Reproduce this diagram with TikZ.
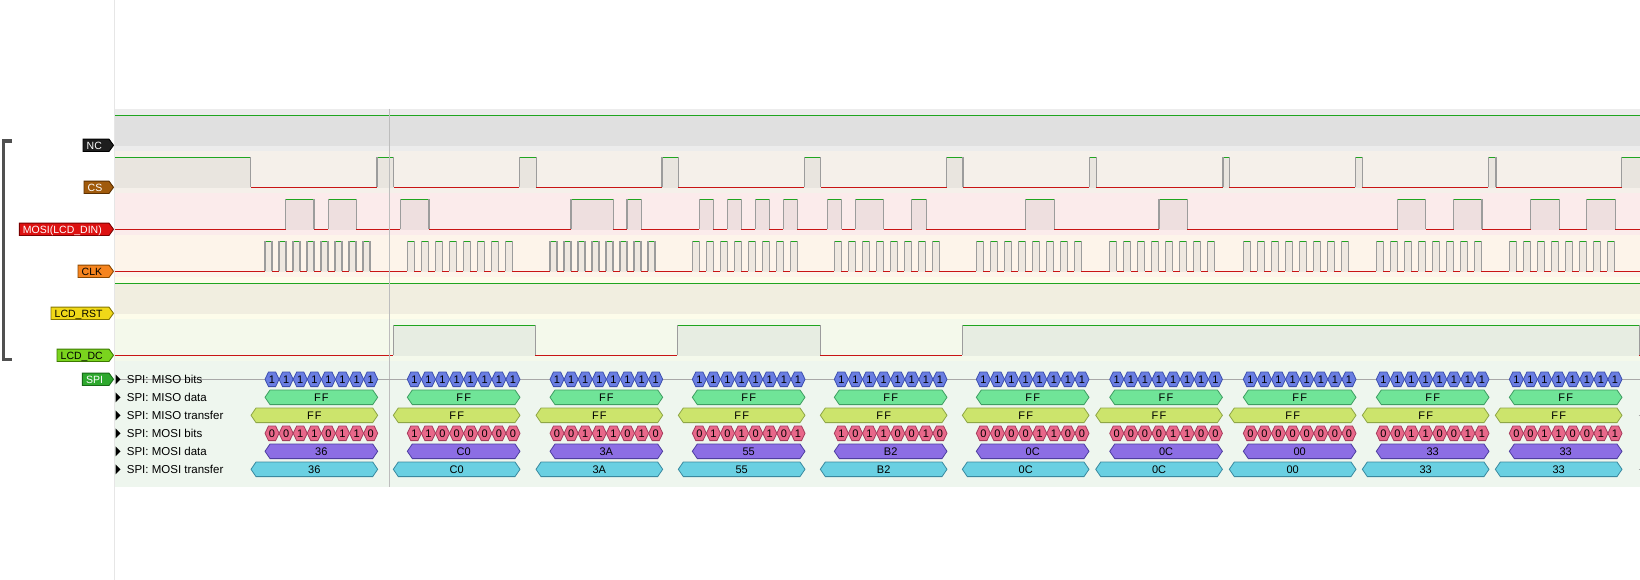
\documentclass[tikz,border=0pt]{standalone}
\usepackage{fontspec}
\setmainfont{Liberation Sans}
\definecolor{hic}{HTML}{1FA51F}
\definecolor{loc}{HTML}{C81414}
\definecolor{edgec}{HTML}{9C9C9C}
\definecolor{cursorc}{HTML}{BDBDBD}
\definecolor{divc}{HTML}{E6E6E6}
\definecolor{linec}{HTML}{A8A8A8}
\definecolor{ncbg}{HTML}{ECECEC}\definecolor{ncfill}{HTML}{E0E0E0}
\definecolor{csbg}{HTML}{F5F0EA}\definecolor{csfill}{HTML}{E9E5DF}
\definecolor{mosibg}{HTML}{FBEBEB}\definecolor{mosifill}{HTML}{EEDFDF}
\definecolor{clkbg}{HTML}{FDF4EA}\definecolor{clkfill}{HTML}{EFE8E0}
\definecolor{rstbg}{HTML}{FDFCEA}\definecolor{rstfill}{HTML}{F1EEE0}
\definecolor{dcbg}{HTML}{F4F9EB}\definecolor{dcfill}{HTML}{E7EDE2}
\definecolor{spibg}{HTML}{EEF6EE}
\definecolor{mbf}{HTML}{6A7EE2}\definecolor{mbd}{HTML}{3C4EAE}
\definecolor{mdf}{HTML}{70E498}\definecolor{mdd}{HTML}{3F9E62}
\definecolor{mtf}{HTML}{CCE46C}\definecolor{mtd}{HTML}{8EA646}
\definecolor{obf}{HTML}{E8688A}\definecolor{obd}{HTML}{A63C5C}
\definecolor{odataf}{HTML}{8C6EE4}\definecolor{odatad}{HTML}{4E3EA0}
\definecolor{otf}{HTML}{6AD0E2}\definecolor{otd}{HTML}{3A8AA0}
\definecolor{tagnc}{HTML}{1E1E1E}\definecolor{tagncd}{HTML}{000000}
\definecolor{tagcs}{HTML}{A05A0C}\definecolor{tagcsd}{HTML}{5C3000}
\definecolor{tagmosi}{HTML}{DD1111}\definecolor{tagmosid}{HTML}{7A0000}
\definecolor{tagclk}{HTML}{F5841F}\definecolor{tagclkd}{HTML}{8A4800}
\definecolor{tagrst}{HTML}{F0D818}\definecolor{tagrstd}{HTML}{857600}
\definecolor{tagdc}{HTML}{7AD41E}\definecolor{tagdcd}{HTML}{3C7A00}
\definecolor{tagspi}{HTML}{2EA82E}\definecolor{tagspid}{HTML}{176A17}
\definecolor{bracketc}{HTML}{505050}

\tikzset{
  hiline/.style={draw=hic, line width=1pt},
  loline/.style={draw=loc, line width=1pt},
  edgeline/.style={draw=edgec, line width=1.4pt},
  cursorline/.style={draw=cursorc, line width=1.2pt},
  tagtext/.style={font=\fontsize{10.5}{12}\selectfont, inner sep=0pt, anchor=base west},
  rowtext/.style={font=\fontsize{11.5}{13}\selectfont, inner sep=0pt, anchor=base west},
  hextext/.style={font=\fontsize{11}{12}\selectfont, inner sep=0pt, anchor=base},
}

% high interval: x1, x2, high y, fill colour
\newcommand\wvFill[4]{%
  \fill[#4] (#1,#3) rectangle (#2,#3+30.6);
  \draw[hiline] (#1,#3) -- (#2,#3);}
\newcommand\wvEdge[2]{\draw[edgeline] (#1,#2) -- (#1,#2+30);}
\newcommand\wvPulse[4]{\wvFill{#1}{#2}{#3}{#4}\wvEdge{#1}{#3}\wvEdge{#2}{#3}}
% hexagon: x1, x2, yc, fill, draw, point
\newcommand\hexShape[6]{%
  \filldraw[fill=#4,draw=#5,line width=0.8pt] (#1,#3) -- (#1+#6,#3-7.3) -- (#2-#6,#3-7.3) -- (#2,#3) -- (#2-#6,#3+7.3) -- (#1+#6,#3+7.3) -- cycle;}
% tag: name, x0, yc, fill, draw, text colour, text
\newcommand\tagShape[7]{%
  \filldraw[fill=#4,draw=#5,line width=0.9pt] (#2,#3-6.2) -- (109,#3-6.2) -- (113.5,#3) -- (109,#3+6.2) -- (#2,#3+6.2) -- cycle;
  \node[tagtext,text=#6] (#1) at (#2+3.5,#3+3.9) {#7};}

\begin{document}
\begin{tikzpicture}[x=1pt,y=-1pt]
\useasboundingbox (0,0) rectangle (1640,580);
\fill[white] (0,0) rectangle (1640,580);

% row backgrounds
\fill[ncbg]   (115,109) rectangle (1640,151);
\fill[csbg]   (115,151) rectangle (1640,193);
\fill[mosibg] (115,193) rectangle (1640,235);
\fill[clkbg]  (115,235) rectangle (1640,277);
\fill[rstbg]  (115,277) rectangle (1640,319);
\fill[dcbg]   (115,319) rectangle (1640,361);
\fill[spibg]  (115,361) rectangle (1640,487);
\draw[divc, line width=1pt] (114.5,0) -- (114.5,580);

% low lines
\foreach \L in {187.3,229.3,271.3,355.3} {\draw[loline] (115,\L) -- (1640,\L);}

% NC and LCD_RST: constant high
\wvFill{115}{1640}{115.3}{ncfill}
\wvFill{115}{1640}{283.3}{rstfill}

% CS
\wvFill{115}{250.7}{157.3}{csfill}\wvEdge{250.7}{157.3}
\foreach \a/\b in {377/393.7,519.3/536.3,662/678.3,804.3/820.7,946.7/963,1089.3/1096.3,1223/1229.3,1355.3/1362.3,1488.3/1496}
  {\wvPulse{\a}{\b}{157.3}{csfill}}
\wvFill{1621.7}{1640}{157.3}{csfill}\wvEdge{1621.7}{157.3}

% MOSI(LCD_DIN)
\foreach \a/\b in {285.7/314,328.3/356.3,400.3/429,571/613.3,627/641.3,699.3/713.3,727.3/741.3,755.3/769.3,783.3/797.3,827.3/841.7,855.3/883.7,911.7/926.3,1025.7/1054.3,1159/1187.3,1397.7/1425.7,1453.7/1482,1530.7/1559.3,1586.7/1615.3}
  {\wvPulse{\a}{\b}{199.3}{mosifill}}

% CLK
\foreach \s in {265,407.3,550,692.3,834.3,976.3,1109.7,1243.3,1376.3,1509.3} {
  \foreach \k in {0,...,7} {
    \pgfmathsetmacro\xa{\s+14*\k}
    \pgfmathsetmacro\xb{\xa+7}
    \wvPulse{\xa}{\xb}{241.3}{clkfill}
  }
}

% LCD_DC
\foreach \a/\b in {393.3/535.3,677.3/820.3,962.3/1639.3}
  {\wvPulse{\a}{\b}{325.3}{dcfill}}

% cursor
\draw[cursorline] (389.3,109) -- (389.3,487);

% bracket
\draw[bracketc, line width=3.2pt] (12,141) -- (3.3,141) -- (3.3,359.6) -- (12,359.6);

% tags
\tagShape{tNC}{83}{145.3}{tagnc}{tagncd}{white}{NC}
\tagShape{tCS}{84}{187.3}{tagcs}{tagcsd}{white}{CS}
\tagShape{tMOSI}{19.3}{229.3}{tagmosi}{tagmosid}{white}{MOSI(LCD\_DIN)}
\tagShape{tCLK}{78}{271.3}{tagclk}{tagclkd}{black}{CLK}
\tagShape{tRST}{51}{313.3}{tagrst}{tagrstd}{black}{LCD\_RST}
\tagShape{tDC}{57}{355.3}{tagdc}{tagdcd}{black}{LCD\_DC}
\tagShape{tSPI}{82.3}{379.3}{tagspi}{tagspid}{white}{SPI}

% SPI rows: line, triangles, labels
\draw[linec, line width=0.9pt] (120,379.3) -- (1640,379.3);
\draw[linec, line width=0.9pt] (1638.5,415.3) -- (1640,415.3);
\draw[linec, line width=0.9pt] (1638.5,469.3) -- (1640,469.3);
\foreach \y in {379.3,397.3,415.3,433.3,451.3,469.3}
  {\fill[black] (115.5,\y-5) -- (120.5,\y) -- (115.5,\y+5) -- cycle;}
\node[rowtext] (rMb) at (126.7,383.4) {SPI: MISO bits};
\node[rowtext] (rMd) at (126.7,401.4) {SPI: MISO data};
\node[rowtext] (rMt) at (126.7,419.4) {SPI: MISO transfer};
\node[rowtext] (rOb) at (126.7,437.4) {SPI: MOSI bits};
\node[rowtext] (rOd) at (126.7,455.4) {SPI: MOSI data};
\node[rowtext] (rOt) at (126.7,473.4) {SPI: MOSI transfer};

% decoded groups
\foreach \g/\s/\bits/\hx in {
  1/265/{0,0,1,1,0,1,1,0}/36,
  2/407.3/{1,1,0,0,0,0,0,0}/C0,
  3/550/{0,0,1,1,1,0,1,0}/3A,
  4/692.3/{0,1,0,1,0,1,0,1}/55,
  5/834.3/{1,0,1,1,0,0,1,0}/B2,
  6/976.3/{0,0,0,0,1,1,0,0}/0C,
  7/1109.7/{0,0,0,0,1,1,0,0}/0C,
  8/1243.3/{0,0,0,0,0,0,0,0}/00,
  9/1376.3/{0,0,1,1,0,0,1,1}/33,
  10/1509.3/{0,0,1,1,0,0,1,1}/33} {
  \pgfmathsetmacro\xe{\s+112.7}
  \pgfmathsetmacro\xt{\s-14}
  \pgfmathsetmacro\xdm{(\s+\xe)/2}
  \pgfmathsetmacro\xtm{(\xt+\xe)/2}
  % MISO bits
  \foreach \i in {0,...,7} {
    \pgfmathsetmacro\xa{\s+14.09*\i}
    \pgfmathsetmacro\xb{\xa+14.09}
    \pgfmathsetmacro\xm{\xa+7.045}
    \hexShape{\xa}{\xb}{379.3}{mbf}{mbd}{3.5}
    \node[hextext] (mb-\g-\i) at (\xm,383.2) {1};
  }
  % MISO data
  \hexShape{\s}{\xe}{397.3}{mdf}{mdd}{5}
  \node[hextext] (md-\g) at (\xdm,401.2) {F\kern1.2pt F};
  % MISO transfer
  \hexShape{\xt}{\xe}{415.3}{mtf}{mtd}{5}
  \node[hextext] (mt-\g) at (\xtm,419.2) {F\kern1.2pt F};
  % MOSI bits
  \foreach \b [count=\i from 0] in \bits {
    \pgfmathsetmacro\xa{\s+14.09*\i}
    \pgfmathsetmacro\xb{\xa+14.09}
    \pgfmathsetmacro\xm{\xa+7.045}
    \hexShape{\xa}{\xb}{433.3}{obf}{obd}{3.5}
    \node[hextext] (ob-\g-\i) at (\xm,437.2) {\b};
  }
  % MOSI data
  \hexShape{\s}{\xe}{451.3}{odataf}{odatad}{5}
  \node[hextext] (od-\g) at (\xdm,455.2) {\hx};
  % MOSI transfer
  \hexShape{\xt}{\xe}{469.3}{otf}{otd}{5}
  \node[hextext] (ot-\g) at (\xtm,473.2) {\hx};
}
\end{tikzpicture}
\end{document}
